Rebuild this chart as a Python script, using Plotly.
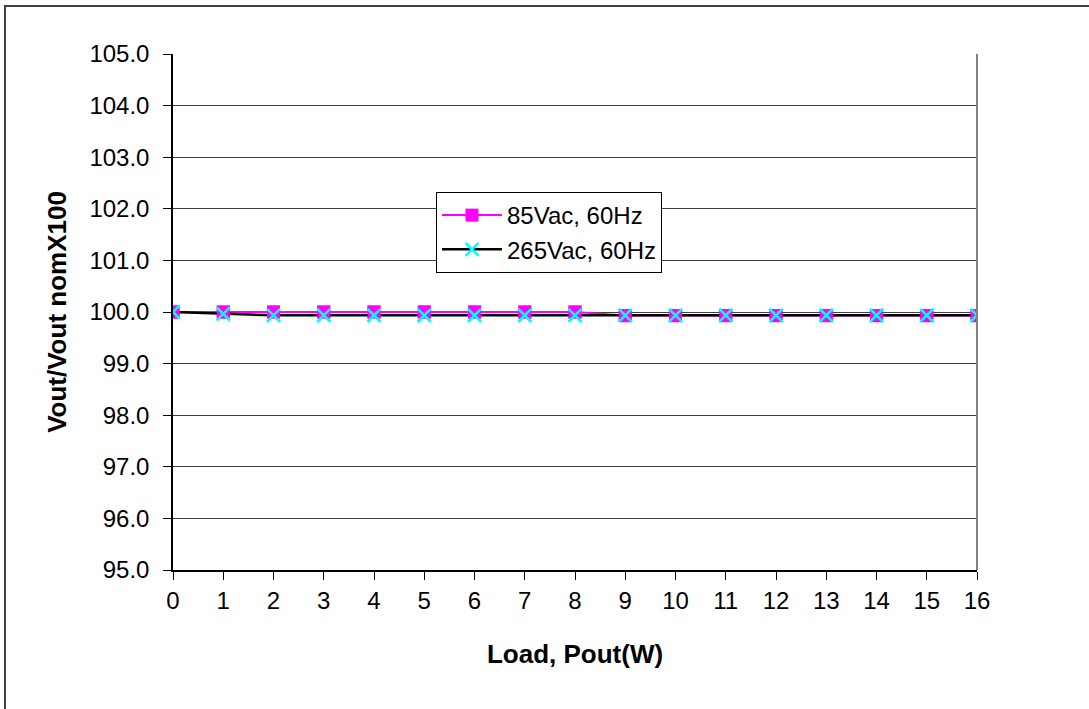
import plotly.graph_objects as go

load_w = list(range(0, 17))
vac85_60hz = [100.0, 100.0, 100.0, 100.0, 100.0, 100.0, 100.0, 100.0, 100.0,
              99.93, 99.93, 99.93, 99.93, 99.93, 99.93, 99.93, 99.93]
vac265_60hz = [100.0, 99.965, 99.935, 99.935, 99.935, 99.935, 99.935, 99.935, 99.935,
               99.935, 99.935, 99.935, 99.935, 99.935, 99.935, 99.935, 99.935]
y_ticks = [95.0, 96.0, 97.0, 98.0, 99.0, 100.0, 101.0, 102.0, 103.0, 104.0, 105.0]

FONT = "Liberation Sans, Arial, sans-serif"
PINK = "#FF00FF"
CYAN = "#00FFFF"

fig = go.Figure()
# legend traces (lines + markers)
fig.add_trace(go.Scatter(x=load_w, y=vac85_60hz, name="85Vac, 60Hz", mode="lines+markers",
                         line=dict(color=PINK, width=2),
                         marker=dict(symbol="square", size=13, color=PINK, line=dict(width=0))))
fig.add_trace(go.Scatter(x=load_w, y=vac265_60hz, name="265Vac, 60Hz", mode="lines+markers",
                         line=dict(color="black", width=2.5),
                         marker=dict(symbol="x-thin", size=13, color=CYAN, line=dict(color=CYAN, width=2.5))))
# markers on top of lines
fig.add_trace(go.Scatter(x=load_w, y=vac85_60hz, mode="markers", showlegend=False, hoverinfo="skip",
                         marker=dict(symbol="square", size=13, color=PINK, line=dict(width=0))))
fig.add_trace(go.Scatter(x=load_w, y=vac265_60hz, mode="markers", showlegend=False, hoverinfo="skip",
                         marker=dict(symbol="x-thin", size=13, color=CYAN, line=dict(color=CYAN, width=2.5))))

L, R, T, B = 173, 977, 54, 570
W, H = 1089, 709

fig.update_layout(
    width=W, height=H, autosize=False,
    margin=dict(l=L, r=W - R, t=T, b=H - B, pad=0),
    paper_bgcolor="white", plot_bgcolor="white",
    font=dict(family=FONT, size=24, color="black"),
    showlegend=True,
    legend=dict(x=(436 - L) / (R - L), y=(B - 192) / (B - T), xanchor="left", yanchor="top",
                bgcolor="white", bordercolor="black", borderwidth=1,
                font=dict(family=FONT, size=24, color="black"),
                itemwidth=60, tracegroupgap=0),
    xaxis=dict(range=[0, 16], tickmode="array", tickvals=load_w,
               ticktext=[str(v) for v in load_w],
               showgrid=False, zeroline=False,
               showline=True, linecolor="black", linewidth=1.5, mirror=False,
               ticks="outside", ticklen=8, tickcolor="black", tickwidth=1,
               tickfont=dict(family=FONT, size=24, color="black"),
               title=dict(text="<b>Load, Pout(W)</b>", standoff=32,
                          font=dict(family=FONT, size=26, color="black"))),
    yaxis=dict(range=[95, 105], tickmode="array", tickvals=y_ticks,
               ticktext=[f"{v:.1f}" for v in y_ticks],
               showgrid=True, gridcolor="#404040", gridwidth=1, zeroline=False,
               showline=True, linecolor="black", linewidth=1.5,
               ticks="outside", ticklen=8, tickcolor="black", tickwidth=1,
               ticklabelstandoff=9,
               tickfont=dict(family=FONT, size=24, color="black"),
               title=dict(text="<b>Vout/Vout nomX100</b>", standoff=15,
                          font=dict(family=FONT, size=26, color="black"))),
    shapes=[
        # right border of the plot area
        dict(type="line", xref="paper", yref="paper", x0=1, x1=1, y0=0, y1=1,
             line=dict(color="#808080", width=2)),
        # outer chart frame
        dict(type="rect", xref="paper", yref="paper",
             x0=(5 - L) / (R - L), x1=(W + 10 - L) / (R - L),
             y0=(B - (H + 10)) / (B - T), y1=(B - 6) / (B - T),
             line=dict(color="#404040", width=2), fillcolor="rgba(0,0,0,0)", layer="below"),
    ],
)

fig.write_html("out.html", config={"displayModeBar": False},
               post_script="document.body.style.margin='0';document.body.style.overflow='hidden';")
